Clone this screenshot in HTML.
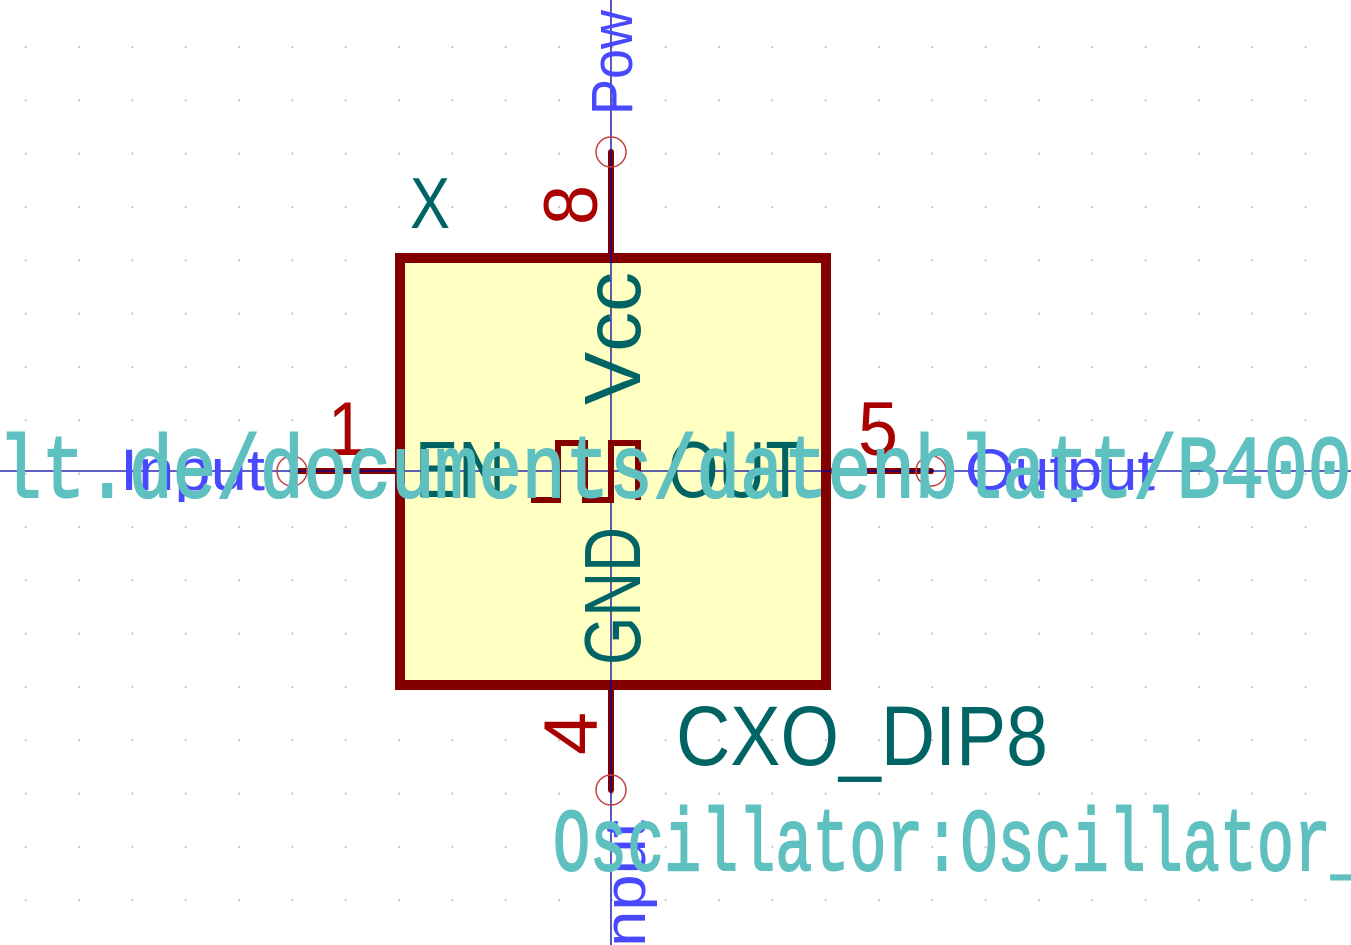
<!DOCTYPE html>
<html><head><meta charset="utf-8"><style>
html,body{margin:0;padding:0;background:#fff;}
svg{display:block;}
text{font-family:"Liberation Sans","DejaVu Sans",sans-serif;}
text.mono{font-family:"Liberation Mono","DejaVu Sans Mono",monospace;}
</style></head><body>
<svg width="1351" height="945" viewBox="0 0 1351 945" xmlns="http://www.w3.org/2000/svg">
<defs>
<pattern id="g" x="24.7" y="46" width="53.33" height="53.33" patternUnits="userSpaceOnUse">
<rect x="0" y="0" width="2" height="2" fill="#c8c8c8"/>
</pattern>
</defs>
<rect width="1351" height="945" fill="#fff"/>
<rect width="1351" height="945" fill="url(#g)"/>
<rect x="400" y="258" width="426" height="427" fill="#ffffc2" stroke="#840000" stroke-width="10"/>
<g stroke="#840000" stroke-width="6" stroke-linecap="round">
<line x1="611" y1="152" x2="611" y2="256"/>
<line x1="611" y1="686" x2="611" y2="790"/>
<line x1="292" y1="471" x2="398" y2="471"/>
<line x1="827" y1="471" x2="931" y2="471"/>
</g>
<line x1="0" y1="471" x2="1351" y2="471" stroke="#0000a0" stroke-width="1.3"/>
<line x1="611" y1="0" x2="611" y2="945" stroke="#0000a0" stroke-width="1.3"/>
<g fill="none" stroke="#c04040" stroke-width="1.5">
<circle cx="611" cy="152" r="15"/><circle cx="611" cy="790" r="15"/>
<circle cx="292" cy="471" r="15"/><circle cx="931" cy="471" r="15"/>
</g>
<polyline points="531,500 558,500 558,443 585,443 585,500 611,500 611,443 638,443 638,500" fill="none" stroke="#840000" stroke-width="6"/>
<g fill="#006464" font-size="80">
<text x="415" y="497" textLength="90" lengthAdjust="spacingAndGlyphs">EN</text>
<text x="668" y="497" textLength="137" lengthAdjust="spacingAndGlyphs">OUT</text>
<text transform="translate(640,405) rotate(-90)" textLength="133" lengthAdjust="spacingAndGlyphs">Vcc</text>
<text transform="translate(640,665) rotate(-90)" textLength="138" lengthAdjust="spacingAndGlyphs">GND</text>
<text x="410" y="228" font-size="72" textLength="40" lengthAdjust="spacingAndGlyphs">X</text>
<text x="676" y="765" font-size="84" textLength="372" lengthAdjust="spacingAndGlyphs">CXO_DIP8</text>
</g>
<g fill="#a90000" font-size="76">
<text x="328" y="455" textLength="37" lengthAdjust="spacingAndGlyphs">1</text>
<text x="858" y="455" textLength="40" lengthAdjust="spacingAndGlyphs">5</text>
<text transform="translate(597,225) rotate(-90)" textLength="40" lengthAdjust="spacingAndGlyphs">8</text>
<text transform="translate(597,755) rotate(-90)" textLength="43" lengthAdjust="spacingAndGlyphs">4</text>
</g>
<g fill="#4848ff" font-size="58">
<text x="120" y="490" textLength="145" lengthAdjust="spacingAndGlyphs">Input</text>
<text x="965" y="490" textLength="190" lengthAdjust="spacingAndGlyphs">Output</text>
<text transform="translate(632,115) rotate(-90)" textLength="105" lengthAdjust="spacingAndGlyphs">Pow</text>
<text transform="translate(645,965) rotate(-90)" textLength="145" lengthAdjust="spacingAndGlyphs">Input</text>
</g>
<g fill="#5fc0c0" stroke="#5fc0c0" stroke-width="2" font-size="89">
<text class="mono" x="-2" y="497" textLength="1397" lengthAdjust="spacingAndGlyphs">lt.de/documents/datenblatt/B4000</text>
<text class="mono" x="553" y="870" textLength="815" lengthAdjust="spacingAndGlyphs">Oscillator:Oscillator_</text>
</g>
</svg>
</body></html>
